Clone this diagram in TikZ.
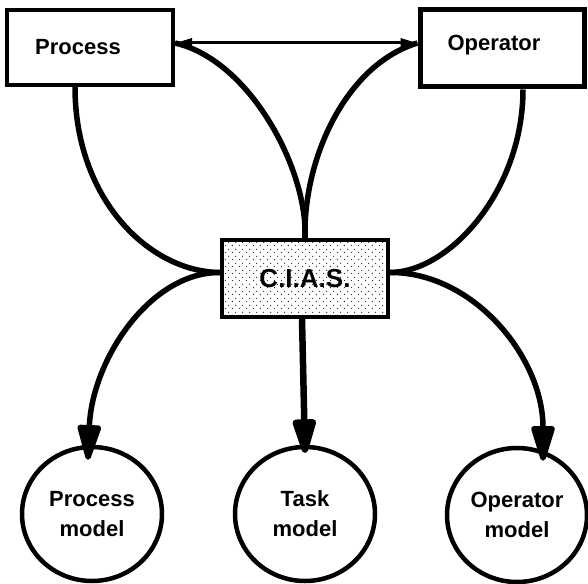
\documentclass[tikz,border=0pt]{standalone}
\usepackage{fontspec}
\setmainfont{Liberation Sans}
\usetikzlibrary{arrows.meta,shapes.geometric,patterns}

% staggered dot screen for the C.I.A.S. box
\pgfdeclarepatternformonly{ciasdots}{\pgfqpoint{0pt}{0pt}}{\pgfqpoint{7pt}{7pt}}{\pgfqpoint{7pt}{7pt}}{%
  \pgfpathcircle{\pgfqpoint{1.75pt}{1.75pt}}{0.75pt}%
  \pgfpathcircle{\pgfqpoint{5.25pt}{5.25pt}}{0.75pt}%
  \pgfusepath{fill}%
}

\begin{document}
\begin{tikzpicture}[x=1pt,y=-1pt,
  box/.style={draw, rectangle, fill=white, inner sep=0pt},
  lbl/.style={font=\fontsize{22}{26}\selectfont\bfseries, inner sep=0pt, align=center},
  model/.style={draw, ellipse, line width=4.5pt, minimum width=140pt, minimum height=134pt,
    inner sep=0pt, align=center, font=\fontsize{22}{30}\selectfont\bfseries},
  link/.style={line width=5.5pt},
  bighead/.style={-{Triangle[length=42pt,width=24pt,round]}},
  smallhead/.style={{Triangle[length=17pt,width=9pt]}-{Triangle[length=17pt,width=9pt]}}
]
\useasboundingbox (0,0) rectangle (588,583);

% actors
\node[box, line width=4pt, minimum width=166pt, minimum height=75pt] (proc) at (90,47.5) {};
\node[lbl] (proct) at (78,47) {Process};
\node[box, line width=5pt, minimum width=164pt, minimum height=77pt] (op) at (502,48.5) {};
\node[lbl] (opt) at (494,45) {Operator};

% central system
\node[box, line width=4pt, minimum width=166pt, minimum height=77pt,
  preaction={fill=white}, pattern=ciasdots, pattern color=black!80,
  font=\fontsize{26}{30}\selectfont\bfseries] (cias) at (305,278.5) {C.I.A.S.};

% models
\node[model] (pm) at (92,514) {Process\\model};
\node[model] (tm) at (305,514) {Task\\model};
\node[model] (om) at (517,515) {Operator\\model};

% connectors
\draw[line width=3pt, smallhead] ([yshift=4.5pt]proc.east) -- ([yshift=5.5pt]op.west);
\draw[link] ([xshift=-15pt]proc.south) .. controls (75,200) and (150,272) .. ([yshift=6pt]cias.west);
\draw[link] (cias.north) .. controls (308,170) and (250,60) .. ([yshift=4.5pt]proc.east);
\draw[link] (cias.north) .. controls (303,160) and (345,65) .. ([yshift=5.5pt]op.west);
\draw[link] ([xshift=21pt]op.south) .. controls (523,190) and (450,272) .. ([yshift=6pt]cias.east);
\draw[link, bighead] ([yshift=6pt]cias.west) .. controls (150,272) and (92,360) .. ([xshift=-4pt,yshift=-15pt]pm.north);
\draw[line width=6.5pt, bighead] ([xshift=-3pt]cias.south) -- ([yshift=-8pt]tm.north);
\draw[link, bighead] ([yshift=6pt]cias.east) .. controls (473,272) and (543,357) .. ([xshift=26pt,yshift=-15pt]om.north);
\end{tikzpicture}
\end{document}
